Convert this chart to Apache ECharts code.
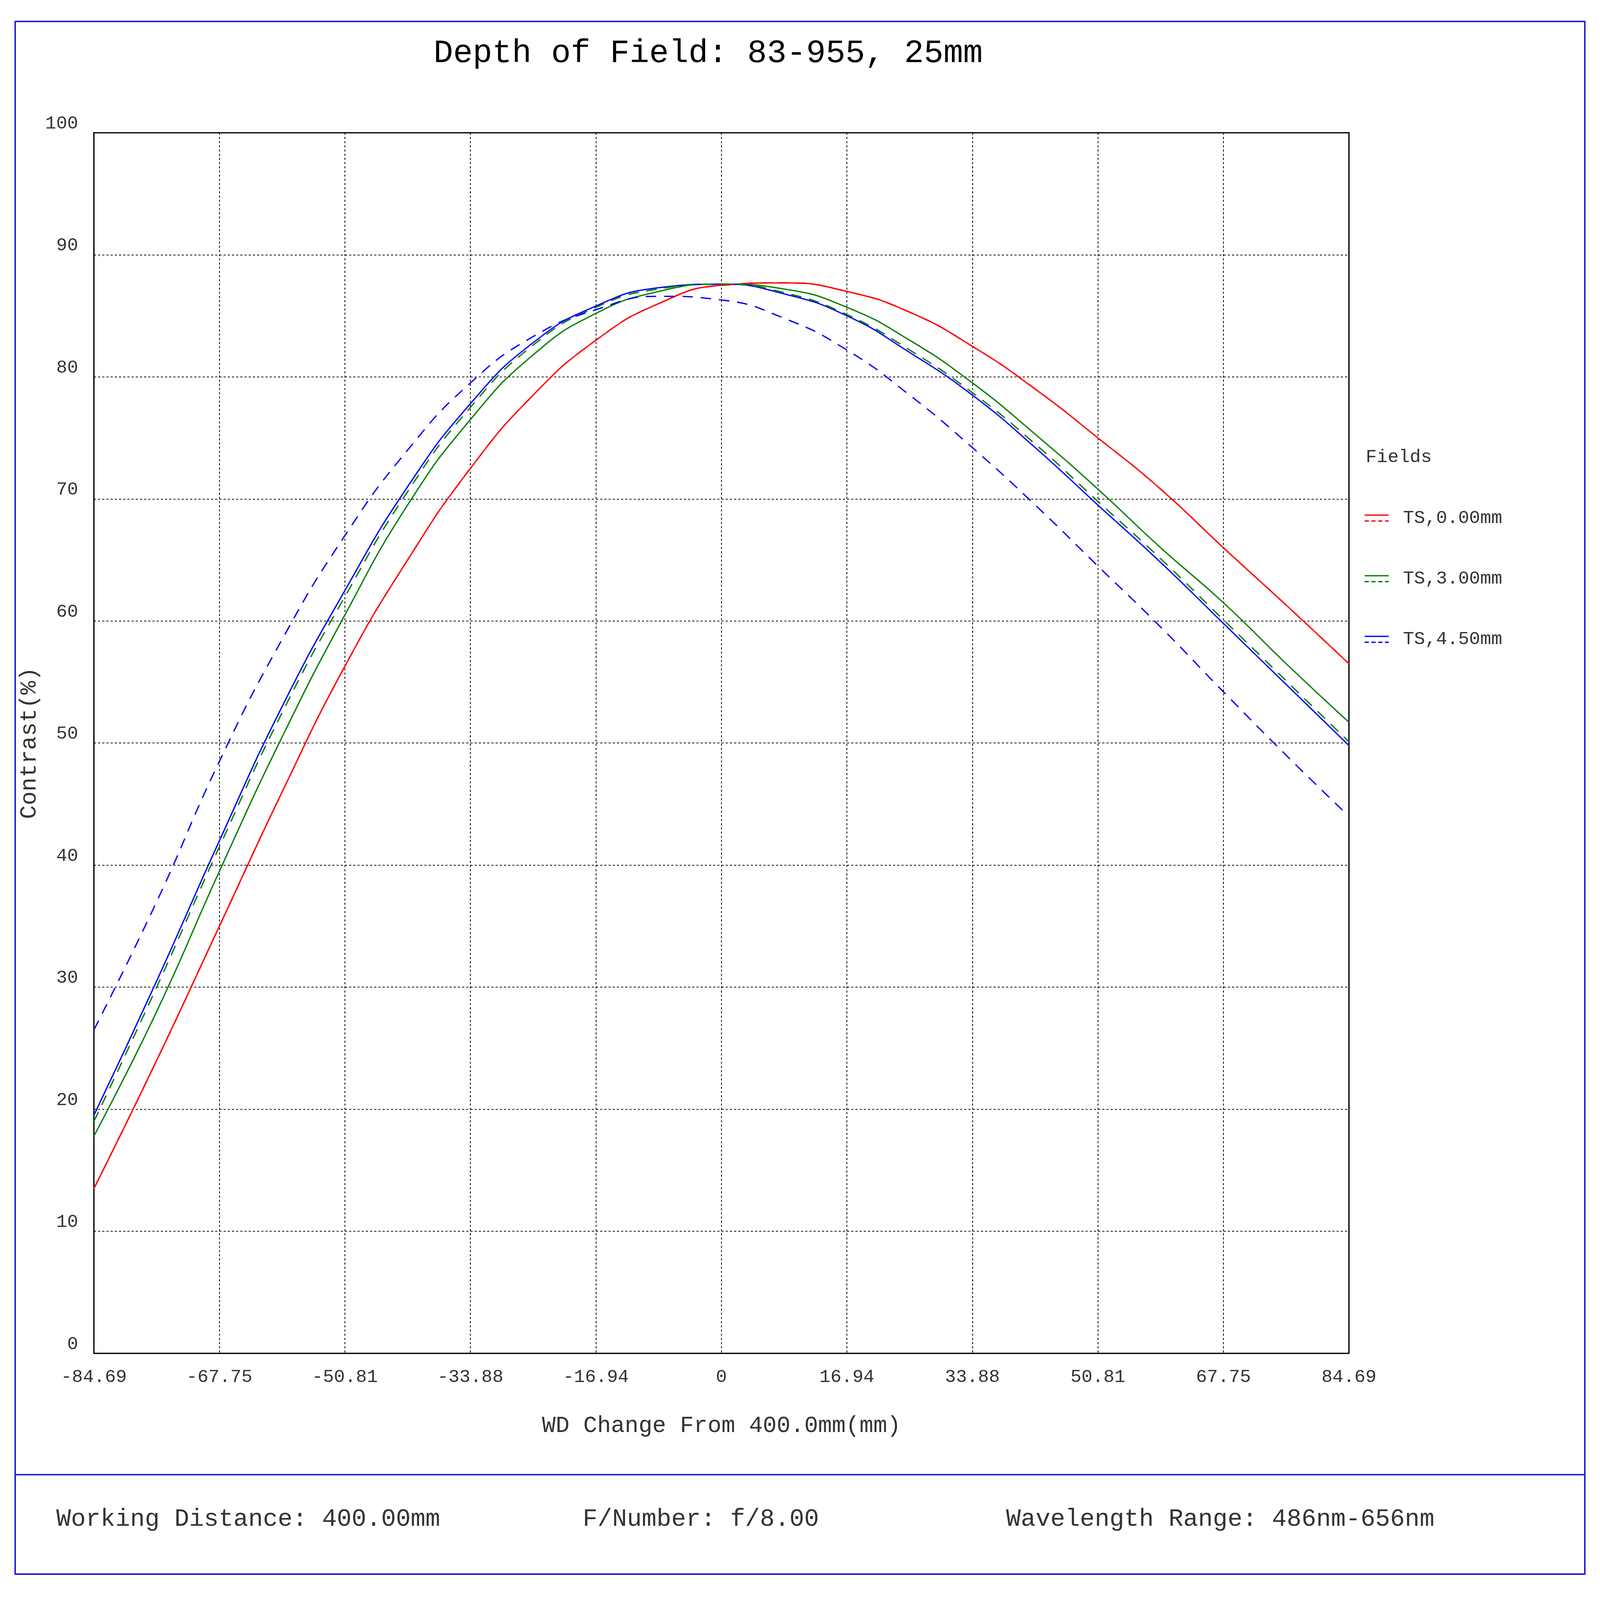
<!DOCTYPE html>
<html>
<head>
<meta charset="utf-8">
<script src="https://cdn.jsdelivr.net/npm/echarts@6/dist/echarts.min.js"></script>
<style>html,body{margin:0;padding:0;background:#fff;overflow:hidden}#main{width:100vw;height:100vh}</style>
</head>
<body>
<div id="main"></div>
<script>
// 横轴采样点（WD变化, mm）
var xs = [-84.69,-76.22,-67.75,-59.28,-50.81,-42.35,-33.88,-25.41,-16.94,-8.47,0,8.47,16.94,25.41,33.88,42.35,50.81,59.28,67.75,76.22,84.69];
var tickLabels = ['-84.69','-67.75','-50.81','-33.88','-16.94','0','16.94','33.88','50.81','67.75','84.69'];
var red0 = [13.5,24,35,46,56.3,65,72.5,78.5,83,86,87.5,87.7,87,85.3,82.5,79,75,70.8,66,61.3,56.5];
var red0d = [13.5,24,35,46,56.3,65,72.5,78.5,83,86,87.5,87.7,87,85.3,82.5,79,75,70.8,66,61.3,56.5];
var green3 = [17.8,28,39.5,50.5,60.5,69.5,76.5,81.8,85.2,87,87.6,87.2,85.7,83,79.5,75.3,70.8,66,61.5,56.5,51.7];
var green3d = [19,30,41.5,52.5,62,70.6,77.5,82.6,85.7,87.2,87.6,86.9,85.1,82.2,78.7,74.5,69.8,65.1,60.1,55.1,50.1];
var blue45 = [19.5,30.5,42,53,62.5,71,77.8,82.8,85.8,87.3,87.6,86.8,85,82,78.5,74.2,69.5,64.8,59.8,54.8,49.8];
var blue45d = [26.5,37,48.5,58.5,67,74,79.5,83.3,85.5,86.6,86.3,84.8,82.2,78.5,74.2,69.5,64.5,59.5,54.2,49,44];

var el = document.getElementById('main');
var s = el.clientWidth / 6118;
var sy = el.clientHeight / 4327;
function X(v){ return v * s; }
function Y(v){ return v * sy; }
function pts(arr){ return xs.map(function(x,i){ return [x, arr[i]]; }); }
var font = 'Liberation Mono';
function ser(name, arr, color, dashed){
    return {name:name, type:'line', data:pts(arr), smooth:true, symbol:'none', z: dashed?3:2,
        lineStyle:{color:color, width:X(5), type: dashed?[X(40),X(30)]:'solid'}};
}
function fnt(px){ return Math.round(X(px)) + 'px "' + font + '"'; }
function legendItem(y, color, label){
    return [
        {type:'line', shape:{x1:X(5218),y1:Y(y-8),x2:X(5310),y2:Y(y-8)}, style:{stroke:color,lineWidth:X(5)}},
        {type:'line', shape:{x1:X(5218),y1:Y(y+8),x2:X(5310),y2:Y(y+8)}, style:{stroke:color,lineWidth:X(5),lineDash:[X(16),X(10)]}},
        {type:'text', x:X(5365), y:Y(y), style:{text:label, font:fnt(70), fill:'#333', verticalAlign:'middle'}}
    ];
}
var chart = echarts.init(el);
chart.setOption({
    animation:false,
    backgroundColor:'#fff',
    title:{text:'Depth of Field: 83-955, 25mm', left:X(2700), top:Y(95), textAlign:'center',
        textStyle:{fontFamily:font, fontSize:X(125), fontWeight:'normal', color:'#000'}},
    grid:{left:X(359), right:X(960), top:Y(359), bottom:Y(667), show:true, borderColor:'#000', borderWidth:X(5)},
    xAxis:{type:'value', min:-84.69, max:84.69, interval:16.938,
        name:'WD Change From 400.0mm(mm)', nameLocation:'middle', nameGap:Y(165),
        nameTextStyle:{fontFamily:font, fontSize:X(88), color:'#333'},
        axisLine:{show:false}, axisTick:{show:false},
        axisLabel:{fontFamily:font, fontSize:X(70), color:'#333', margin:Y(40),
            formatter:function(v){ return tickLabels[Math.round((v+84.69)/16.938)]; }},
        splitLine:{lineStyle:{color:'#000', type:[X(8),X(8)], width:X(3)}}},
    yAxis:{type:'value', min:0, max:100, interval:10,
        name:'Contrast(%)', nameLocation:'middle', nameGap:X(200),
        nameTextStyle:{fontFamily:font, fontSize:X(88), color:'#333'},
        axisLine:{show:false}, axisTick:{show:false},
        axisLabel:{fontFamily:font, fontSize:X(70), color:'#333', margin:X(60), verticalAlign:'bottom'},
        splitLine:{lineStyle:{color:'#000', type:[X(8),X(8)], width:X(3)}}},
    series:[
        ser('TS,0.00mm', red0, '#ff0000', false),
        ser('TS,0.00mm', red0d, '#ff0000', true),
        ser('TS,3.00mm', green3, '#007f00', false),
        ser('TS,3.00mm', green3d, '#007f00', true),
        ser('TS,4.50mm', blue45, '#0000ff', false),
        ser('TS,4.50mm', blue45d, '#0000ff', true)
    ],
    graphic:[
        {type:'rect', shape:{x:X(58),y:Y(58),width:X(6002),height:Y(4199)}, style:{fill:null, stroke:'#0000cc', lineWidth:X(5)}},
        {type:'line', shape:{x1:X(58),y1:Y(3988),x2:X(6060),y2:Y(3988)}, style:{stroke:'#0000cc', lineWidth:X(5)}},
        {type:'text', x:X(5222), y:Y(1237), style:{text:'Fields', font:fnt(70), fill:'#333', verticalAlign:'middle'}},
        {type:'text', x:X(215), y:Y(4109), style:{text:'Working Distance: 400.00mm', font:fnt(94), fill:'#333', verticalAlign:'middle'}},
        {type:'text', x:X(2228), y:Y(4109), style:{text:'F/Number: f/8.00', font:fnt(94), fill:'#333', verticalAlign:'middle'}},
        {type:'text', x:X(3847), y:Y(4109), style:{text:'Wavelength Range: 486nm-656nm', font:fnt(94), fill:'#333', verticalAlign:'middle'}}
    ].concat(legendItem(1401,'#ff0000','TS,0.00mm'), legendItem(1565,'#007f00','TS,3.00mm'), legendItem(1729,'#0000ff','TS,4.50mm'))
});
</script>
</body>
</html>
